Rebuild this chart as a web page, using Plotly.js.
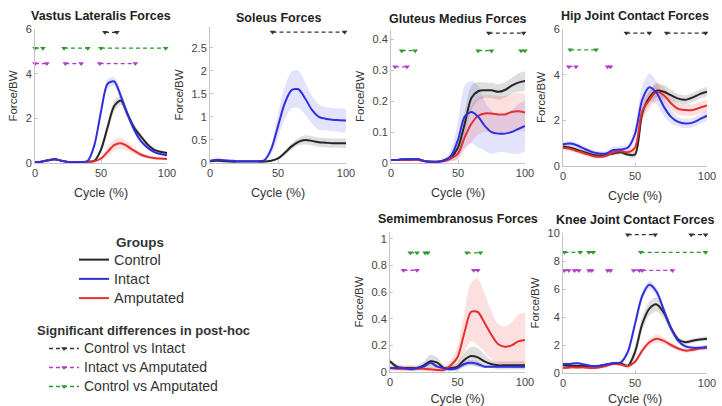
<!DOCTYPE html>
<html>
<head>
<meta charset="utf-8">
<script src="https://cdn.plot.ly/plotly-3.0.1.min.js"></script>
<style>html,body{margin:0;padding:0;background:#fff;}#chart{width:722px;height:406px;}</style>
</head>
<body>
<div id="chart"></div>
<script>
// ---------- DATA ----------
const cycle = [0,5,10,15,20,25,30,35,40,45,50,55,60,65,70,75,80,85,90,95,100];
const groupNames = ['Control','Intact','Amputated'];
const comparisonNames = ['Control vs Intact','Intact vs Amputated','Control vs Amputated'];

// Vastus Lateralis (Force/BW)
const vlControl   = [0.05,0.06,0.12,0.17,0.1,0.05,0.04,0.04,0.05,0.1,0.6,1.6,2.55,2.8,2.2,1.6,1.2,0.85,0.6,0.5,0.45];
const vlIntact    = [0.05,0.06,0.12,0.17,0.1,0.05,0.04,0.04,0.1,0.8,2.3,3.55,3.65,3.0,2.2,1.5,1.0,0.7,0.5,0.4,0.35];
const vlAmputated = [0.05,0.06,0.12,0.17,0.1,0.05,0.04,0.04,0.05,0.08,0.2,0.5,0.8,0.88,0.75,0.55,0.38,0.28,0.22,0.2,0.18];
const vlControlSD   = [0.03,0.03,0.04,0.04,0.03,0.03,0.03,0.03,0.03,0.05,0.15,0.25,0.25,0.2,0.2,0.15,0.12,0.08,0.06,0.05,0.05];
const vlIntactSD    = [0.03,0.03,0.04,0.04,0.03,0.03,0.03,0.03,0.03,0.1,0.2,0.2,0.2,0.2,0.15,0.1,0.08,0.06,0.05,0.05,0.05];
const vlAmputatedSD = [0.03,0.03,0.04,0.04,0.03,0.03,0.03,0.03,0.03,0.05,0.1,0.2,0.25,0.25,0.2,0.15,0.1,0.08,0.06,0.05,0.05];
const vlSigCI = [[53,62]];
const vlSigIA = [[0,9],[23,35],[49,76]];
const vlSigCA = [[0,6],[22,40],[50,99]];

// Soleus
const solControl   = [0.04,0.05,0.04,0.03,0.03,0.03,0.03,0.03,0.03,0.05,0.1,0.22,0.36,0.46,0.5,0.48,0.45,0.44,0.43,0.43,0.43];
const solIntact    = [0.05,0.07,0.06,0.05,0.04,0.04,0.04,0.04,0.06,0.3,0.8,1.3,1.58,1.6,1.4,1.15,1.0,0.96,0.94,0.93,0.92];
const solControlSD = [0.01,0.01,0.01,0.01,0.01,0.01,0.01,0.01,0.01,0.02,0.03,0.05,0.07,0.08,0.1,0.1,0.1,0.1,0.1,0.1,0.1];
const solIntactSD  = [0.02,0.02,0.02,0.02,0.02,0.02,0.02,0.02,0.03,0.1,0.25,0.35,0.4,0.4,0.35,0.3,0.28,0.25,0.25,0.25,0.25];
const solSigCI = [[46,99]];

// Gluteus Medius
const gmControl   = [0.01,0.01,0.012,0.012,0.012,0.006,0.004,0.004,0.01,0.02,0.05,0.127,0.21,0.232,0.235,0.235,0.23,0.236,0.25,0.26,0.265];
const gmIntact    = [0.01,0.01,0.012,0.012,0.012,0.006,0.004,0.004,0.008,0.025,0.075,0.15,0.165,0.15,0.12,0.1,0.095,0.095,0.1,0.11,0.12];
const gmAmputated = [0.01,0.01,0.01,0.01,0.01,0.006,0.004,0.004,0.006,0.015,0.03,0.083,0.127,0.152,0.16,0.16,0.157,0.157,0.165,0.167,0.163];
const gmControlSD   = [0.003,0.003,0.003,0.003,0.003,0.003,0.003,0.003,0.003,0.008,0.02,0.04,0.04,0.03,0.025,0.025,0.025,0.025,0.025,0.03,0.03];
const gmIntactSD    = [0.003,0.003,0.003,0.003,0.003,0.003,0.003,0.003,0.005,0.02,0.06,0.1,0.1,0.1,0.08,0.07,0.06,0.06,0.07,0.08,0.08];
const gmAmputatedSD = [0.003,0.003,0.003,0.003,0.003,0.003,0.003,0.003,0.004,0.01,0.02,0.04,0.06,0.06,0.06,0.06,0.06,0.06,0.06,0.06,0.06];
const gmSigCI = [[73,99]];
const gmSigIA = [[3,12]];
const gmSigCA = [[8,18],[65,75],[97,100]];

// Hip joint contact
const hipControl   = [0.85,0.8,0.7,0.6,0.5,0.45,0.48,0.55,0.6,0.5,0.5,2.3,3.0,3.3,3.25,3.1,2.95,2.9,3.0,3.15,3.25];
const hipIntact    = [0.95,0.98,0.9,0.75,0.62,0.55,0.55,0.7,0.72,0.8,1.4,2.9,3.45,3.2,2.6,2.15,1.93,1.86,1.9,2.05,2.2];
const hipAmputated = [0.8,0.75,0.65,0.55,0.45,0.4,0.45,0.6,0.65,0.6,0.8,2.4,2.9,3.25,3.1,2.75,2.5,2.45,2.45,2.55,2.65];
const hipControlSD   = [0.1,0.1,0.1,0.1,0.08,0.08,0.08,0.1,0.1,0.1,0.15,0.3,0.3,0.3,0.3,0.25,0.2,0.2,0.2,0.2,0.2];
const hipIntactSD    = [0.12,0.12,0.12,0.1,0.1,0.1,0.1,0.15,0.15,0.15,0.3,0.6,0.6,0.5,0.4,0.3,0.2,0.2,0.2,0.2,0.2];
const hipAmputatedSD = [0.1,0.1,0.1,0.1,0.08,0.08,0.08,0.1,0.1,0.1,0.2,0.4,0.4,0.4,0.35,0.3,0.25,0.25,0.25,0.25,0.25];
const hipSigCI = [[44,60],[72,99]];
const hipSigIA = [[4,9],[31,33]];
const hipSigCA = [[5,23]];

// Semimembranosus
const smControl   = [0.08,0.04,0.03,0.03,0.03,0.05,0.08,0.07,0.03,0.03,0.04,0.09,0.12,0.11,0.08,0.06,0.05,0.05,0.05,0.05,0.05];
const smIntact    = [0.03,0.03,0.03,0.02,0.03,0.04,0.07,0.04,0.03,0.02,0.03,0.06,0.07,0.06,0.04,0.04,0.04,0.04,0.04,0.04,0.04];
const smAmputated = [0.03,0.025,0.025,0.025,0.025,0.025,0.02,0.015,0.015,0.05,0.11,0.29,0.45,0.45,0.37,0.28,0.21,0.19,0.2,0.23,0.24];
const smControlSD   = [0.02,0.02,0.02,0.02,0.02,0.03,0.05,0.04,0.02,0.02,0.03,0.05,0.07,0.07,0.05,0.03,0.03,0.03,0.03,0.03,0.03];
const smIntactSD    = [0.01,0.01,0.01,0.01,0.01,0.01,0.02,0.01,0.01,0.01,0.01,0.02,0.02,0.02,0.01,0.01,0.01,0.01,0.01,0.01,0.01];
const smAmputatedSD = [0.02,0.02,0.02,0.02,0.02,0.02,0.02,0.02,0.02,0.04,0.08,0.15,0.22,0.25,0.22,0.18,0.15,0.15,0.17,0.2,0.2];
const smSigIA = [[10,20],[62,65]];
const smSigCA = [[15,20],[26,28],[57,67]];

// Knee joint contact
const kneeControl   = [0.55,0.5,0.5,0.5,0.45,0.5,0.6,0.7,0.7,0.5,1.5,3.5,4.6,4.9,4.3,3.2,2.4,2.2,2.3,2.4,2.45];
const kneeIntact    = [0.65,0.65,0.7,0.6,0.5,0.5,0.6,0.7,0.75,1.5,3.5,5.5,6.3,5.8,4.5,3.2,2.3,1.9,1.8,1.8,1.85];
const kneeAmputated = [0.35,0.4,0.4,0.4,0.35,0.4,0.5,0.65,0.6,0.5,0.8,1.6,2.2,2.45,2.3,2.0,1.75,1.6,1.65,1.75,1.8];
const kneeControlSD   = [0.1,0.1,0.1,0.1,0.1,0.1,0.1,0.1,0.1,0.2,0.4,0.5,0.5,0.5,0.4,0.3,0.2,0.15,0.15,0.15,0.15];
const kneeIntactSD    = [0.1,0.1,0.1,0.1,0.1,0.1,0.1,0.1,0.1,0.2,0.3,0.3,0.3,0.3,0.3,0.2,0.15,0.15,0.15,0.15,0.15];
const kneeAmputatedSD = [0.1,0.1,0.1,0.1,0.1,0.1,0.1,0.1,0.1,0.1,0.15,0.2,0.25,0.3,0.25,0.2,0.15,0.15,0.15,0.15,0.15];
const kneeSigCI = [[45,64],[89,99]];
const kneeSigIA = [[1,4],[8,11],[18,20],[31,33],[49,53],[55,76]];
const kneeSigCA = [[1,12],[18,21],[54,99]];

// ---------- STYLE / LAYOUT ----------
const W = 722, H = 406;
const FONT = 'Liberation Sans, Arial, Helvetica, sans-serif';
const groupColor = ['#262626', '#2f2fe0', '#e62e2e'];
const groupFill  = ['rgba(0,0,0,0.13)', 'rgba(70,70,235,0.15)', 'rgba(240,70,70,0.17)'];
const sigColor   = ['#333333', '#b23cc8', '#2e9a2e'];

const panels = [
  {title:'Vastus Lateralis Forces', px:[35,167], py:[29,163], yr:[0,6], dt:2, ty:16,
   groups:[[vlControl,vlControlSD],[vlIntact,vlIntactSD],[vlAmputated,vlAmputatedSD]],
   sig:[[vlSigCI,5.85],[vlSigIA,4.45],[vlSigCA,5.14]]},
  {title:'Soleus Forces', px:[210,346], py:[27,163], yr:[0,2.95], dt:0.5, ty:18,
   groups:[[solControl,solControlSD],[solIntact,solIntactSD],null],
   sig:[[solSigCI,2.84],null,null]},
  {title:'Gluteus Medius Forces', px:[391,525], py:[30,163], yr:[0,0.43], dt:0.1, ty:19,
   groups:[[gmControl,gmControlSD],[gmIntact,gmIntactSD],[gmAmputated,gmAmputatedSD]],
   sig:[[gmSigCI,0.42],[gmSigIA,0.311],[gmSigCA,0.363]]},
  {title:'Hip Joint Contact Forces', px:[563,707], py:[29,166], yr:[0,6], dt:2, ty:16,
   groups:[[hipControl,hipControlSD],[hipIntact,hipIntactSD],[hipAmputated,hipAmputatedSD]],
   sig:[[hipSigCI,5.82],[hipSigIA,4.35],[hipSigCA,5.09]]},
  {title:'Semimembranosus Forces', px:[390,525], py:[232,372], yr:[0,1.05], dt:0.2, ty:219,
   groups:[[smControl,smControlSD],[smIntact,smIntactSD],[smAmputated,smAmputatedSD]],
   sig:[null,[smSigIA,0.763],[smSigCA,0.894]]},
  {title:'Knee Joint Contact Forces', px:[563,707], py:[233,373], yr:[0,10], dt:2, ty:220,
   groups:[[kneeControl,kneeControlSD],[kneeIntact,kneeIntactSD],[kneeAmputated,kneeAmputatedSD]],
   sig:[[kneeSigCI,9.88],[kneeSigIA,7.33],[kneeSigCA,8.62]]}
];

const traces = [];
const layout = {
  width: W, height: H,
  margin: {l:0, r:0, t:0, b:0},
  paper_bgcolor: '#fff', plot_bgcolor: '#fff',
  font: {family: FONT, color: '#333', size: 11},
  showlegend: true,
  legend: {x: 74/W, y: 1-245/H, xanchor:'left', yanchor:'top', bgcolor:'rgba(0,0,0,0)',
           font:{size:12.5, color:'#333', family:FONT}, tracegroupgap:0, itemwidth:30},
  legend2: {x: 44/W, y: 1-334/H, xanchor:'left', yanchor:'top', bgcolor:'rgba(0,0,0,0)',
           font:{size:11.5, color:'#333', family:FONT}, tracegroupgap:0, itemwidth:30},
  annotations: [
    {text:'<b>Groups</b>', x:140/W, y:1-242/H, xref:'paper', yref:'paper', showarrow:false,
     xanchor:'center', yanchor:'middle', font:{size:13.5, color:'#333'}},
    {text:'<b>Significant differences in post-hoc</b>', x:35/W, y:1-330/H, xref:'paper', yref:'paper', showarrow:false,
     xanchor:'left', yanchor:'middle', font:{size:13, color:'#333'}}
  ]
};

const legendShownSig = [false,false,false];

panels.forEach((p, i) => {
  const n = i + 1;
  const xa = 'x' + (n === 1 ? '' : n), ya = 'y' + (n === 1 ? '' : n);
  const axStyle = {showline:true, linecolor:'#c4c4c4', linewidth:1, showgrid:false, zeroline:false,
                   ticks:'inside', ticklen:3, tickcolor:'#c4c4c4', tickfont:{size:11, color:'#444'}};
  layout['xaxis' + (n === 1 ? '' : n)] = Object.assign({}, axStyle, {
    domain:[p.px[0]/W, p.px[1]/W], anchor: ya, range:[0,100], tickvals:[0,50,100],
    title:{text:'Cycle (%)', font:{size:12.5, color:'#333'}, standoff:10}
  });
  layout['yaxis' + (n === 1 ? '' : n)] = Object.assign({}, axStyle, {
    domain:[1-p.py[1]/H, 1-p.py[0]/H], anchor: xa, range:p.yr, dtick:p.dt, tick0:0,
    title:{text:'Force/BW', font:{size:11.5, color:'#333'}, standoff:5}
  });
  layout.annotations.push({text:'<b>'+p.title+'</b>', xref:'paper', yref:'paper',
    x:(p.px[0]+p.px[1])/2/W, y:1-p.ty/H, xanchor:'center', yanchor:'middle', showarrow:false,
    font:{size:12.5, color:'#222'}});

  // bands first
  p.groups.forEach((g, gi) => {
    if (!g) return;
    const [m, sd] = g;
    const up = m.map((v,k) => v + sd[k]);
    const lo = m.map((v,k) => Math.max(0, v - sd[k]));
    traces.push({x: cycle.concat(cycle.slice().reverse()), y: up.concat(lo.slice().reverse()),
      xaxis: xa, yaxis: ya, type:'scatter', mode:'lines', fill:'toself', fillcolor: groupFill[gi],
      line:{width:0, shape:'spline', smoothing:0.8}, hoverinfo:'skip', showlegend:false});
  });
  // mean curves
  [0,2,1].forEach(gi => {
    const g = p.groups[gi];
    if (!g) return;
    traces.push({x: cycle, y: g[0], xaxis: xa, yaxis: ya, type:'scatter', mode:'lines',
      name: '<span style="font-size:14.5px">' + groupNames[gi] + '</span>',
      line:{color: groupColor[gi], width:2, shape:'spline', smoothing:0.8},
      showlegend: i === 0, legend:'legend', legendrank: gi + 1, hoverinfo:'skip'});
  });
  // significance markers
  p.sig.forEach((s, si) => {
    if (!s) return;
    const [intervals, level] = s;
    const xs = [], ys = [];
    intervals.forEach(iv => { xs.push(iv[0], iv[1], null); ys.push(level, level, null); });
    const show = !legendShownSig[si];
    legendShownSig[si] = true;
    traces.push({x: xs, y: ys, xaxis: xa, yaxis: ya, type:'scatter', mode:'lines+markers',
      name: '<span style="font-size:14px">' + comparisonNames[si] + '</span>',
      legend:'legend2', legendrank: si + 1, showlegend: show,
      line:{color: sigColor[si], width:1.3, dash:'4px,3px'},
      marker:{symbol:'triangle-down', size:5, color: sigColor[si]}, hoverinfo:'skip', cliponaxis:false});
  });
});

Plotly.newPlot('chart', traces, layout, {staticPlot:true, displayModeBar:false});
</script>
</body>
</html>
